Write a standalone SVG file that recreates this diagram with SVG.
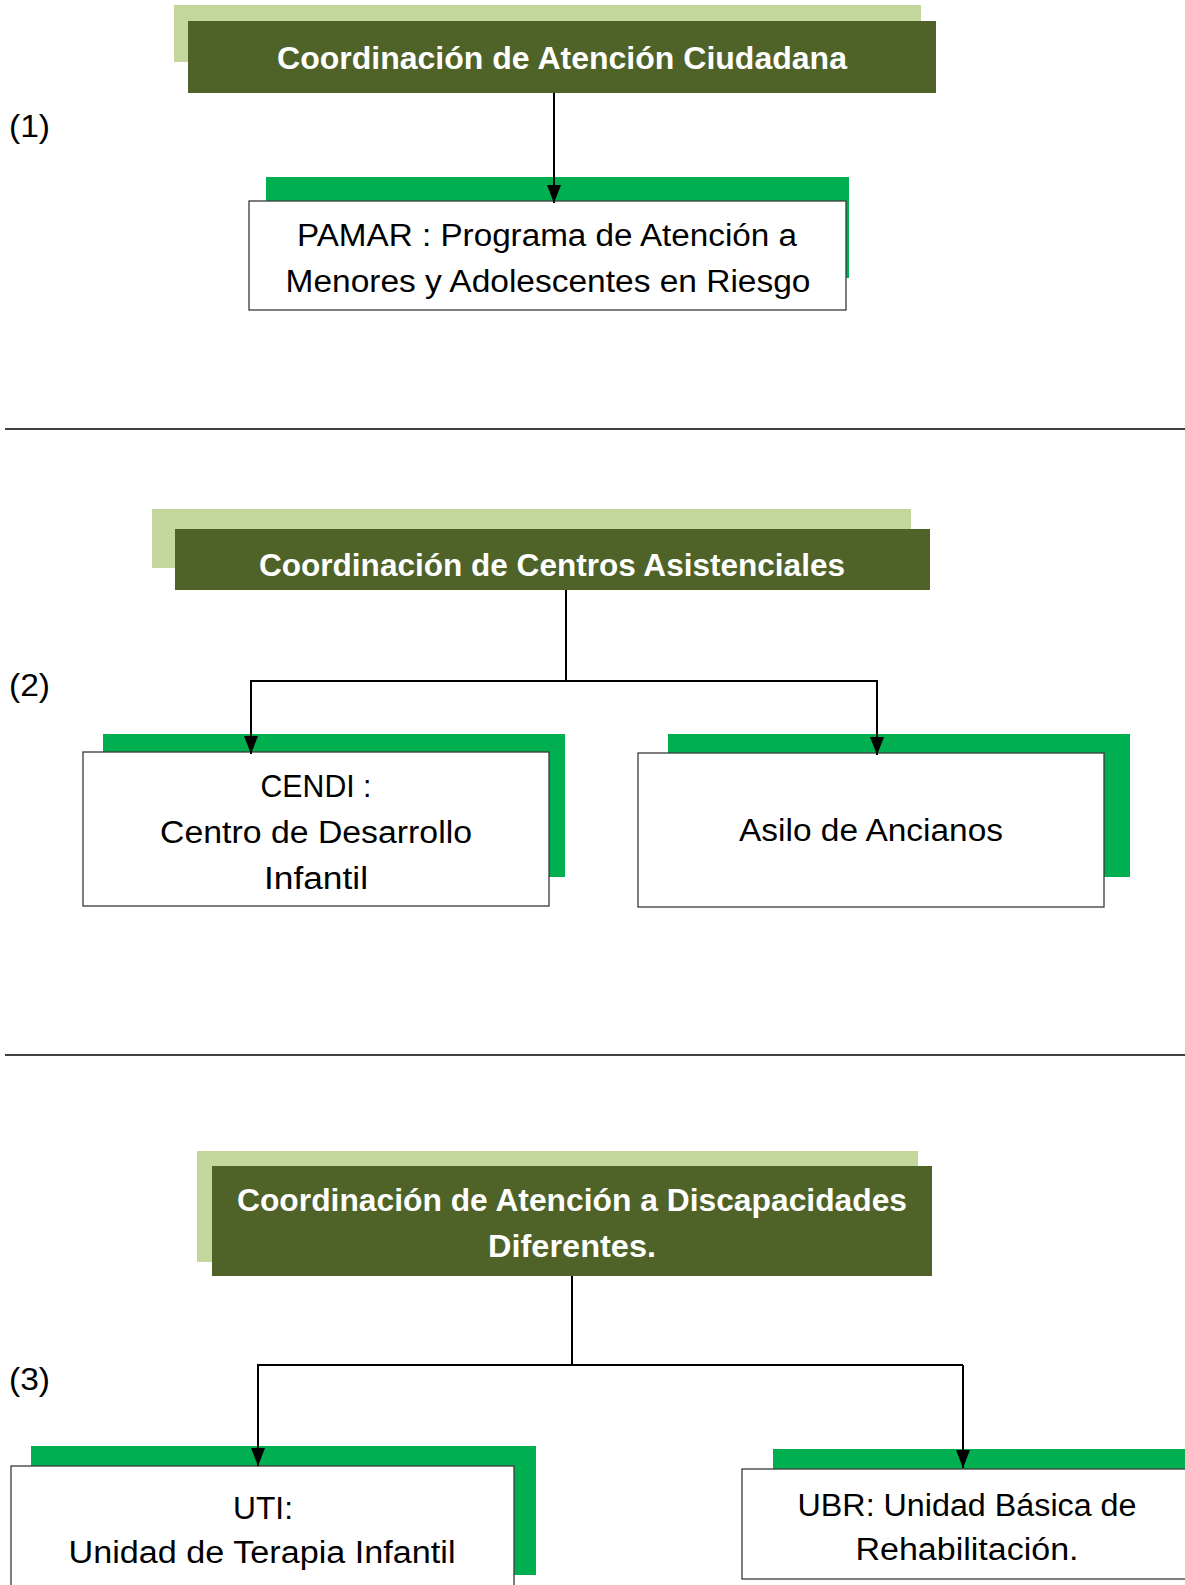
<svg xmlns="http://www.w3.org/2000/svg" width="1185" height="1585" viewBox="0 0 1185 1585">
<style>
.lg{fill:#c3d69b}
.dg{fill:#4f6228}
.bg{fill:#00b050}
.wb{fill:#ffffff;stroke:#3a3a3a;stroke-width:1.3}
.tt{font-family:"Liberation Sans",Arial,sans-serif;font-weight:bold;font-size:31px;fill:#ffffff;text-anchor:middle}
.bt{font-family:"Liberation Sans",Arial,sans-serif;font-size:31px;fill:#000000;text-anchor:middle}
.lb{font-family:"Liberation Sans",Arial,sans-serif;font-size:31px;fill:#000000}
.cn{fill:none;stroke:#000000;stroke-width:2}
.dv{stroke:#000000;stroke-width:1.5}
</style>
<defs>
<marker id="arr" viewBox="0 0 18 14" refX="18" refY="7" markerWidth="18" markerHeight="14" markerUnits="userSpaceOnUse" orient="auto">
<path d="M0,0 L18,7 L0,14 z" fill="#000000"/>
</marker>
</defs>
<rect width="1185" height="1585" fill="#ffffff"/>

<g id="labels">
<text class="lb" x="9" y="137" textLength="41" lengthAdjust="spacingAndGlyphs">(1)</text>
<text class="lb" x="9" y="696" textLength="41" lengthAdjust="spacingAndGlyphs">(2)</text>
<text class="lb" x="9" y="1390" textLength="41" lengthAdjust="spacingAndGlyphs">(3)</text>
</g>

<g id="dividers">
<line class="dv" x1="5" y1="429" x2="1185" y2="429"/>
<line class="dv" x1="5" y1="1055" x2="1185" y2="1055"/>
</g>

<g id="coord-atencion-ciudadana">
<rect class="lg" x="174" y="5" width="747" height="57"/>
<rect class="dg" x="188" y="21" width="748" height="72"/>
<text class="tt" x="562" y="69" textLength="570" lengthAdjust="spacingAndGlyphs">Coordinación de Atención Ciudadana</text>
</g>

<g id="pamar">
<rect class="bg" x="266" y="177" width="583" height="101"/>
<rect class="wb" x="249" y="201" width="597" height="109"/>
<text class="bt" x="547" y="246" textLength="500" lengthAdjust="spacingAndGlyphs">PAMAR : Programa de Atención a</text>
<text class="bt" x="548" y="292" textLength="525" lengthAdjust="spacingAndGlyphs">Menores y Adolescentes en Riesgo</text>
</g>

<g id="coord-centros-asistenciales">
<rect class="lg" x="152" y="509" width="759" height="59"/>
<rect class="dg" x="175" y="529" width="755" height="61"/>
<text class="tt" x="552" y="576" textLength="586" lengthAdjust="spacingAndGlyphs">Coordinación de Centros Asistenciales</text>
</g>

<g id="cendi">
<rect class="bg" x="103" y="734" width="462" height="143"/>
<rect class="wb" x="83" y="752" width="466" height="154"/>
<text class="bt" x="316" y="797" textLength="111" lengthAdjust="spacingAndGlyphs">CENDI :</text>
<text class="bt" x="316" y="843" textLength="312" lengthAdjust="spacingAndGlyphs">Centro de Desarrollo</text>
<text class="bt" x="316" y="889" textLength="104" lengthAdjust="spacingAndGlyphs">Infantil</text>
</g>

<g id="asilo">
<rect class="bg" x="668" y="734" width="462" height="143"/>
<rect class="wb" x="638" y="753" width="466" height="154"/>
<text class="bt" x="871" y="841" textLength="264" lengthAdjust="spacingAndGlyphs">Asilo de Ancianos</text>
</g>

<g id="coord-discapacidades">
<rect class="lg" x="197" y="1151" width="721" height="111"/>
<rect class="dg" x="212" y="1166" width="720" height="110"/>
<text class="tt" x="572" y="1211" textLength="670" lengthAdjust="spacingAndGlyphs">Coordinación de Atención a Discapacidades</text>
<text class="tt" x="572" y="1257" textLength="168" lengthAdjust="spacingAndGlyphs">Diferentes.</text>
</g>

<g id="uti">
<rect class="bg" x="31" y="1446" width="505" height="129"/>
<rect class="wb" x="11" y="1466" width="503" height="125"/>
<text class="bt" x="263" y="1519" textLength="60" lengthAdjust="spacingAndGlyphs">UTI:</text>
<text class="bt" x="262" y="1563" textLength="387" lengthAdjust="spacingAndGlyphs">Unidad de Terapia Infantil</text>
</g>

<g id="ubr">
<rect class="bg" x="773" y="1449" width="420" height="30"/>
<rect class="wb" x="742" y="1469" width="460" height="110"/>
<text class="bt" x="967" y="1516" textLength="339" lengthAdjust="spacingAndGlyphs">UBR: Unidad Básica de</text>
<text class="bt" x="967" y="1560" textLength="223" lengthAdjust="spacingAndGlyphs">Rehabilitación.</text>
</g>

<g id="connectors">
<line class="cn" x1="554" y1="93" x2="554" y2="203" marker-end="url(#arr)"/>
<polyline class="cn" points="566,590 566,681"/>
<polyline class="cn" points="878,681 251,681 251,754" marker-end="url(#arr)"/>
<polyline class="cn" points="877,681 877,755" marker-end="url(#arr)"/>
<polyline class="cn" points="572,1276 572,1365"/>
<polyline class="cn" points="963,1365 258,1365 258,1466" marker-end="url(#arr)"/>
<polyline class="cn" points="963,1365 963,1468" marker-end="url(#arr)"/>
</g>
</svg>
